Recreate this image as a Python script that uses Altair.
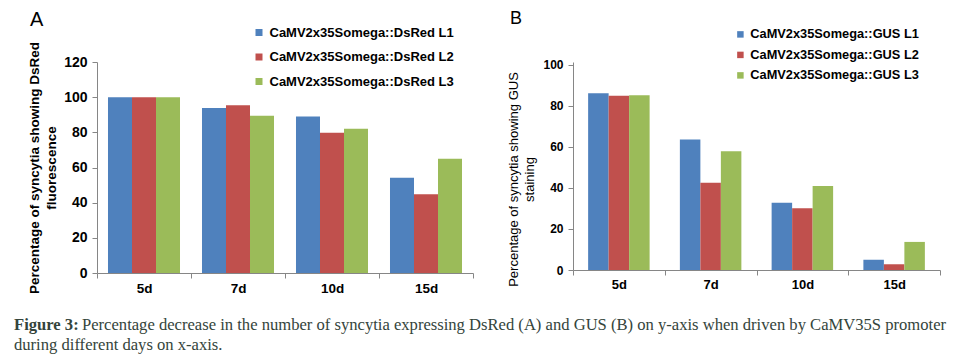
import altair as alt
import pandas as pd

days = ["5d", "7d", "10d", "15d"]

dsred_series = ["CaMV2x35Somega::DsRed L1", "CaMV2x35Somega::DsRed L2", "CaMV2x35Somega::DsRed L3"]
dsred_L1 = [100, 93.9, 89.0, 54.1]
dsred_L2 = [100, 95.4, 79.7, 44.8]
dsred_L3 = [100, 89.4, 82.1, 65.0]

gus_series = ["CaMV2x35Somega::GUS L1", "CaMV2x35Somega::GUS L2", "CaMV2x35Somega::GUS L3"]
gus_L1 = [86.2, 63.7, 32.8, 5.0]
gus_L2 = [85.0, 42.6, 30.1, 2.8]
gus_L3 = [85.2, 57.9, 41.0, 13.7]

colors = ["#4F81BD", "#C0504D", "#9BBB59"]
yticks_a = [0, 20, 40, 60, 80, 100, 120]
yticks_b = [0, 20, 40, 60, 80, 100]
title_a = ["Percentage of syncytia showing DsRed", "fluorescence"]
title_b = ["Percentage of syncytia showing GUS", "staining"]

caption_bold = ["Figure 3:"]
caption_line1 = ["Percentage decrease in the number of syncytia expressing DsRed (A) and GUS (B) on y-axis when driven by CaMV35S promoter"]
caption_line2 = ["during different days on x-axis."]

FONT = "Liberation Sans"
SERIF = "Liberation Serif"
GRAY = "#868686"
CAPCOLOR = "#34443B"


def panel(series, values, ymax, yticks, ytitle, w, h, outer, xlab, ylab,
          tsize, tweight, tline, tx, ty, lfs, lx, ly, rowpad, ssize, loff,
          letter, letx, lety, letsize):
    rows = []
    for s, vals in zip(series, values):
        for d, v in zip(days, vals):
            rows.append({"day": d, "series": s, "value": v})
    df = pd.DataFrame(rows)
    bars = alt.Chart(df).mark_bar().encode(
        x=alt.X("day:N", sort=days,
                scale=alt.Scale(paddingInner=0, paddingOuter=0),
                axis=alt.Axis(title=None, labelAngle=0, tickBand="extent",
                              domainColor=GRAY, tickColor=GRAY, tickSize=5,
                              labelFont=FONT, labelFontWeight="bold",
                              labelFontSize=xlab, labelColor="black",
                              labelPadding=3)),
        xOffset=alt.XOffset("series:N", sort=series,
                            scale=alt.Scale(paddingOuter=outer, paddingInner=0)),
        y=alt.Y("value:Q", scale=alt.Scale(domain=[0, ymax], nice=False),
                axis=alt.Axis(values=yticks, title=ytitle, grid=False,
                              domainColor=GRAY, tickColor=GRAY, tickSize=5,
                              labelFont=FONT, labelFontWeight="bold",
                              labelFontSize=ylab, labelColor="black",
                              labelPadding=5,
                              titleFont=FONT, titleFontWeight=tweight,
                              titleFontSize=tsize, titleColor="black",
                              titleLineHeight=tline, titleX=tx, titleY=ty,
                              titleBaseline="middle")),
        color=alt.Color("series:N", sort=series,
                        scale=alt.Scale(domain=series, range=colors),
                        legend=alt.Legend(title=None, orient="none",
                                          legendX=lx, legendY=ly, padding=0,
                                          symbolType="square", symbolSize=ssize,
                                          symbolStrokeWidth=0, labelLimit=400,
                                          labelFont=FONT, labelFontWeight="bold",
                                          labelFontSize=lfs, labelColor="black",
                                          rowPadding=rowpad, labelOffset=loff)),
    )
    lab = alt.Chart(pd.DataFrame({"t": [letter]})).mark_text(
        font=FONT, fontSize=letsize, align="left", baseline="alphabetic",
        color="black").encode(x=alt.value(letx), y=alt.value(lety), text="t:N")
    return alt.layer(bars, lab).properties(width=w, height=h)


panel_a = panel(dsred_series, [dsred_L1, dsred_L2, dsred_L3], 120, yticks_a, title_a,
                376, 211, 0.458, 13.5, 14, 13.5, "bold", 17, -62.5, 105.5,
                13, 155.5, -36, 10.5, 49, 4, "A", -67, -36, 20)
panel_b = panel(gus_series, [gus_L1, gus_L2, gus_L3], 101.46, yticks_b, title_b,
                367, 208, 0.738, 13, 12, 13, "normal", 16, -59.5, 117,
                12.8, 161, -34, 6.5, 42, 3.5, "B", -63, -38, 18)

cap_df1 = pd.DataFrame({"t": caption_bold})
cap_df2 = pd.DataFrame({"t": caption_line1})
cap_df3 = pd.DataFrame({"t": caption_line2})
c1 = alt.Chart(cap_df1).mark_text(font=SERIF, fontSize=16.6, fontWeight="bold", align="left",
                                  baseline="alphabetic", color=CAPCOLOR).encode(
    x=alt.value(-83), y=alt.value(30), text="t:N")
c2 = alt.Chart(cap_df2).mark_text(font=SERIF, fontSize=16.6, align="left",
                                  baseline="alphabetic", color=CAPCOLOR).encode(
    x=alt.value(-15), y=alt.value(30), text="t:N")
c3 = alt.Chart(cap_df3).mark_text(font=SERIF, fontSize=16.6, align="left",
                                  baseline="alphabetic", color=CAPCOLOR).encode(
    x=alt.value(-83), y=alt.value(50), text="t:N")
caption = alt.layer(c1, c2, c3).properties(width=1, height=1)

top = alt.hconcat(panel_a, panel_b, spacing=33).resolve_scale(
    color="independent", x="independent", y="independent", xOffset="independent")

chart = alt.vconcat(top, caption, spacing=5).properties(
    padding={"left": 6, "top": 2, "right": 0, "bottom": 0}
).configure_view(stroke=None)

chart.save("out.html", embed_options={"renderer": "svg", "actions": False})
